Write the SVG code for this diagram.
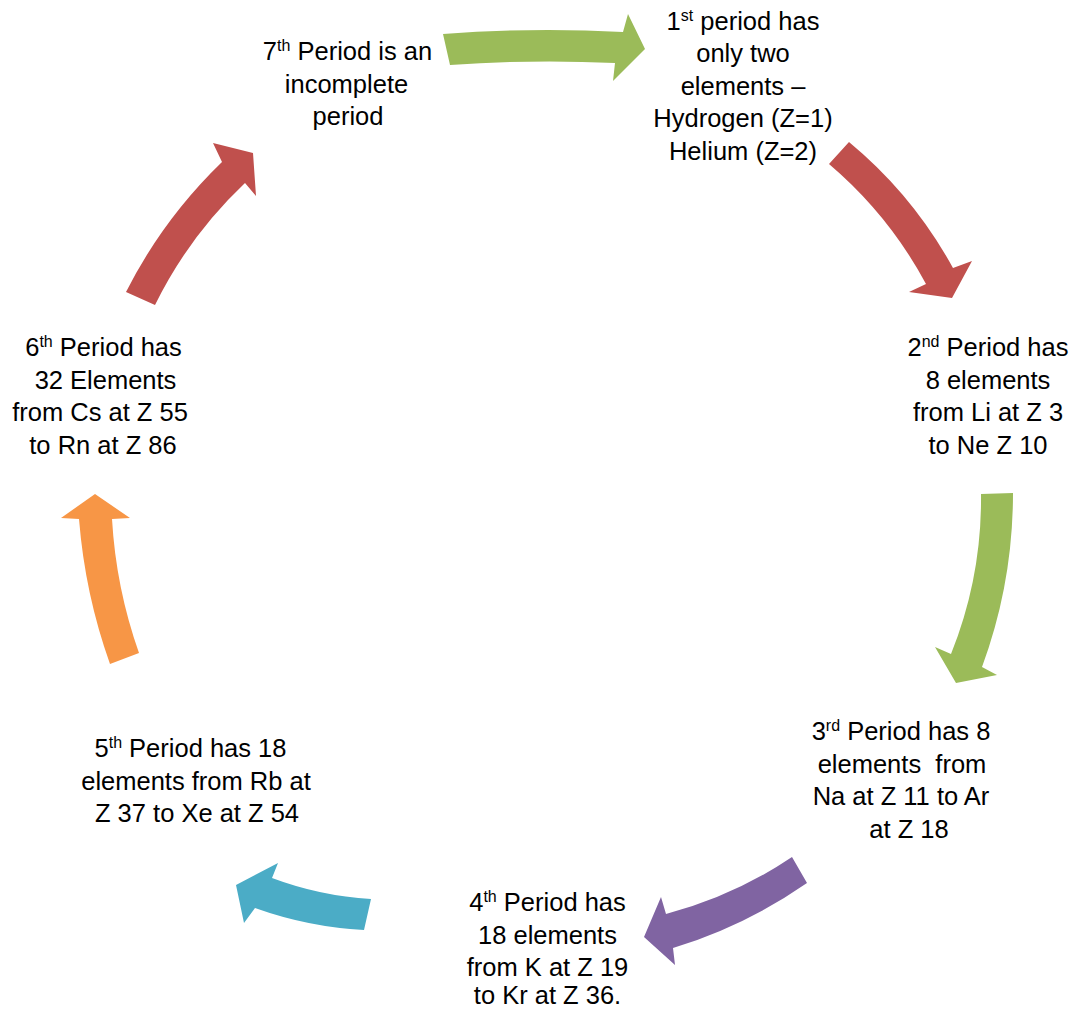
<svg xmlns="http://www.w3.org/2000/svg" width="1076" height="1010" viewBox="0 0 1076 1010">
<style>
text{font-family:"Liberation Sans",Arial,sans-serif;font-size:25.5px;fill:#000;text-anchor:middle}
.sup{font-size:16px}
.green{fill:#9BBB59}.red{fill:#C0504D}.purple{fill:#8064A2}.teal{fill:#4BACC6}.orange{fill:#F79646}
</style>
<rect width="1076" height="1010" fill="#fff"/>
<g id="connectors">
<path class="green" d="M443,34 Q533,27 623,32 L628,14 L645,49 L613,81 L615,63 Q533,59 450,65 Z"/>
<path class="red" d="M849,142 Q913,195 953,268 L972,261 L952,298 L909,292 L926,284 Q889,215 829,164 Z"/>
<path class="green" d="M1013,493 Q1013,583 982,667 L997,675 L956,683 L935,647 L951,654 Q982,577 981,494 Z"/>
<path class="purple" d="M807,883 Q745,926 673,948 L675,965 L644,937 L661,897 L666,914 Q734,896 792,857 Z"/>
<path class="teal" d="M364,930 Q308,927 255,908 L244,923 L236,885 L278,863 L272,878 Q320,896 371,899 Z"/>
<path class="orange" d="M110,664 Q85,594 79,519 L61,518 L95,494 L130,518 L112,519 Q116,588 139,653 Z"/>
<path class="red" d="M126,292 Q163,219 222,162 L213,143 L253,153 L256,196 L245,183 Q189,236 155,305 Z"/>
</g>
<g id="node1">
<text x="743" y="29.5">1<tspan class="sup" dy="-9">st</tspan><tspan dy="9"> period has</tspan></text>
<text x="743" y="62">only two</text>
<text x="743" y="94.5">elements –</text>
<text x="743" y="127">Hydrogen (Z=1)</text>
<text x="743" y="159.5">Helium (Z=2)</text>
</g>
<g id="node2">
<text x="988" y="356">2<tspan class="sup" dy="-9">nd</tspan><tspan dy="9"> Period has</tspan></text>
<text x="988" y="388.5">8 elements</text>
<text x="988" y="421">from Li at Z 3</text>
<text x="988" y="453.5">to Ne Z 10</text>
</g>
<g id="node3">
<text x="901" y="740">3<tspan class="sup" dy="-9">rd</tspan><tspan dy="9"> Period has 8</tspan></text>
<text x="902" y="772.5">elements&#160; from</text>
<text x="901" y="805">Na at Z 11 to Ar</text>
<text x="909" y="837.5">at Z 18</text>
</g>
<g id="node4">
<text x="547.5" y="911">4<tspan class="sup" dy="-9">th</tspan><tspan dy="9"> Period has</tspan></text>
<text x="547.5" y="943.5">18 elements</text>
<text x="547.5" y="976">from K at Z 19</text>
<text x="547.5" y="1004">to Kr at Z 36.</text>
</g>
<g id="node5">
<text x="190.5" y="757">5<tspan class="sup" dy="-9">th</tspan><tspan dy="9"> Period has 18</tspan></text>
<text x="196" y="789.5">elements from Rb at</text>
<text x="197" y="822">Z 37 to Xe at Z 54</text>
</g>
<g id="node6">
<text x="103.5" y="356">6<tspan class="sup" dy="-9">th</tspan><tspan dy="9"> Period has</tspan></text>
<text x="105.5" y="388.5">32 Elements</text>
<text x="100" y="421">from Cs at Z 55</text>
<text x="103" y="453.5">to Rn at Z 86</text>
</g>
<g id="node7">
<text x="347.5" y="60">7<tspan class="sup" dy="-9">th</tspan><tspan dy="9"> Period is an</tspan></text>
<text x="346.5" y="92.5">incomplete</text>
<text x="348" y="125">period</text>
</g>
</svg>
